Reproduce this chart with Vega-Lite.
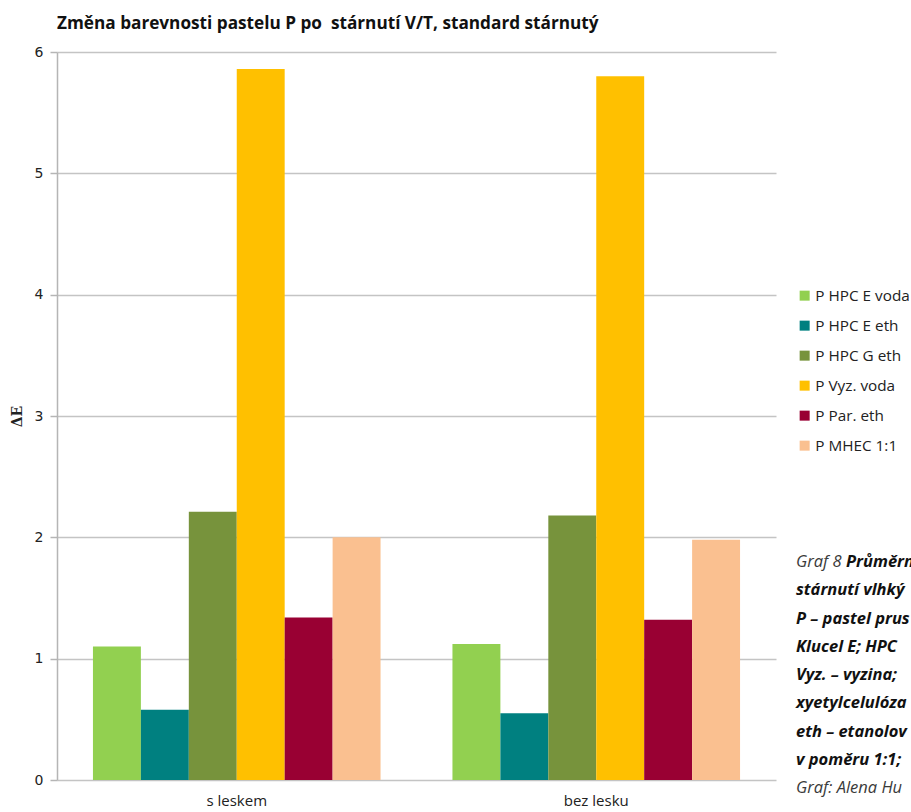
{
  "$schema": "https://vega.github.io/schema/vega-lite/v6.json",
  "autosize": {"type": "none"},
  "padding": {"left": 57, "top": 52, "right": 135, "bottom": 32},
  "width": 719,
  "height": 728,
  "background": "white",
  "title": {
    "text": "Změna barevnosti pastelu P po\u00a0 stárnutí V/T, standard stárnutý",
    "anchor": "start",
    "frame": "group",
    "font": "Open Sans",
    "fontSize": 17.2,
    "fontWeight": "bold",
    "color": "#111111",
    "offset": 13
  },
  "datasets": {
    "bars": [
      {"cat": "s leskem", "series": "P HPC E voda", "dE": 1.10},
      {"cat": "s leskem", "series": "P HPC E eth", "dE": 0.58},
      {"cat": "s leskem", "series": "P HPC G eth", "dE": 2.21},
      {"cat": "s leskem", "series": "P Vyz. voda", "dE": 5.86},
      {"cat": "s leskem", "series": "P Par. eth", "dE": 1.34},
      {"cat": "s leskem", "series": "P MHEC 1:1", "dE": 2.00},
      {"cat": "bez lesku", "series": "P HPC E voda", "dE": 1.12},
      {"cat": "bez lesku", "series": "P HPC E eth", "dE": 0.55},
      {"cat": "bez lesku", "series": "P HPC G eth", "dE": 2.18},
      {"cat": "bez lesku", "series": "P Vyz. voda", "dE": 5.80},
      {"cat": "bez lesku", "series": "P Par. eth", "dE": 1.32},
      {"cat": "bez lesku", "series": "P MHEC 1:1", "dE": 1.98}
    ],
    "caption": [
      {"line": 1, "kind": "regular", "text": "Graf 8"},
      {"line": 1, "kind": "boldfirst", "text": "Průměrn"},
      {"line": 2, "kind": "bold", "text": "stárnutí vlhký"},
      {"line": 3, "kind": "bold", "text": "P – pastel prus"},
      {"line": 4, "kind": "bold", "text": "Klucel E; HPC"},
      {"line": 5, "kind": "bold", "text": "Vyz. – vyzina;"},
      {"line": 6, "kind": "bold", "text": "xyetylcelulóza"},
      {"line": 7, "kind": "bold", "text": "eth – etanolov"},
      {"line": 8, "kind": "bold", "text": "v poměru 1:1;"},
      {"line": 9, "kind": "regular", "text": "Graf: Alena Hu"}
    ]
  },
  "layer": [
    {
      "data": {"name": "bars"},
      "mark": {"type": "bar"},
      "encoding": {
        "x": {
          "field": "cat",
          "type": "nominal",
          "sort": ["s leskem", "bez lesku"],
          "scale": {"paddingInner": 0.2, "paddingOuter": 0.1},
          "axis": {
            "title": null,
            "labelAngle": 0,
            "domain": false,
            "ticks": false,
            "labelPadding": 13,
            "labelFont": "Open Sans",
            "labelFontSize": 15,
            "labelColor": "#222222"
          }
        },
        "xOffset": {
          "field": "series",
          "type": "nominal",
          "sort": ["P HPC E voda", "P HPC E eth", "P HPC G eth", "P Vyz. voda", "P Par. eth", "P MHEC 1:1"],
          "scale": {"paddingInner": 0, "paddingOuter": 0}
        },
        "y": {
          "field": "dE",
          "type": "quantitative",
          "scale": {"domain": [0, 6], "nice": false},
          "axis": {
            "title": "ΔE",
            "titleFont": "DejaVu Serif",
            "titleFontSize": 14,
            "titleFontWeight": "bold",
            "titleColor": "#222222",
            "titlePadding": 10,
            "values": [0, 1, 2, 3, 4, 5, 6],
            "format": "d",
            "labelFont": "DejaVu Sans",
            "labelFontSize": 14,
            "labelColor": "#222222",
            "labelPadding": 7,
            "tickSize": 7,
            "tickColor": "#b5b5b5",
            "tickWidth": 1.5,
            "domainColor": "#b5b5b5",
            "domainWidth": 1.5,
            "grid": true,
            "gridColor": "#c4c4c4",
            "gridWidth": 1.6
          }
        },
        "color": {
          "field": "series",
          "type": "nominal",
          "sort": ["P HPC E voda", "P HPC E eth", "P HPC G eth", "P Vyz. voda", "P Par. eth", "P MHEC 1:1"],
          "scale": {
            "domain": ["P HPC E voda", "P HPC E eth", "P HPC G eth", "P Vyz. voda", "P Par. eth", "P MHEC 1:1"],
            "range": ["#92D050", "#008080", "#77933C", "#FFC000", "#990033", "#FAC090"]
          },
          "legend": {
            "title": null,
            "orient": "none",
            "legendX": 740,
            "legendY": 236,
            "symbolType": "square",
            "symbolSize": 100,
            "symbolStrokeWidth": 0,
            "labelFont": "Open Sans",
            "labelFontSize": 15.3,
            "labelColor": "#222222",
            "labelOffset": 3,
            "rowPadding": 14
          }
        }
      }
    },
    {
      "data": {"name": "caption"},
      "transform": [{"filter": "datum.kind == 'regular'"}],
      "mark": {"type": "text", "align": "left", "baseline": "middle", "font": "Open Sans", "fontSize": 16.5, "fontStyle": "italic", "fontWeight": "normal", "color": "#3a3a3a"},
      "encoding": {
        "x": {"value": {"expr": "width + 20"}},
        "y": {"field": "line", "type": "ordinal", "scale": {"type": "point", "domain": [1, 2, 3, 4, 5, 6, 7, 8, 9], "range": [510, 736], "padding": 0}, "axis": null},
        "text": {"field": "text"}
      }
    },
    {
      "data": {"name": "caption"},
      "transform": [{"filter": "datum.kind == 'bold'"}],
      "mark": {"type": "text", "align": "left", "baseline": "middle", "font": "Open Sans", "fontSize": 16.5, "fontStyle": "italic", "fontWeight": "bold", "color": "#111111"},
      "encoding": {
        "x": {"value": {"expr": "width + 20"}},
        "y": {"field": "line", "type": "ordinal", "scale": {"type": "point", "domain": [1, 2, 3, 4, 5, 6, 7, 8, 9], "range": [510, 736], "padding": 0}, "axis": null},
        "text": {"field": "text"}
      }
    },
    {
      "data": {"name": "caption"},
      "transform": [{"filter": "datum.kind == 'boldfirst'"}],
      "mark": {"type": "text", "align": "left", "baseline": "middle", "font": "Open Sans", "fontSize": 16.5, "fontStyle": "italic", "fontWeight": "bold", "color": "#111111", "dx": 50},
      "encoding": {
        "x": {"value": {"expr": "width + 20"}},
        "y": {"field": "line", "type": "ordinal", "scale": {"type": "point", "domain": [1, 2, 3, 4, 5, 6, 7, 8, 9], "range": [510, 736], "padding": 0}, "axis": null},
        "text": {"field": "text"}
      }
    }
  ],
  "resolve": {"scale": {"y": "independent"}},
  "config": {"view": {"stroke": null}}
}
